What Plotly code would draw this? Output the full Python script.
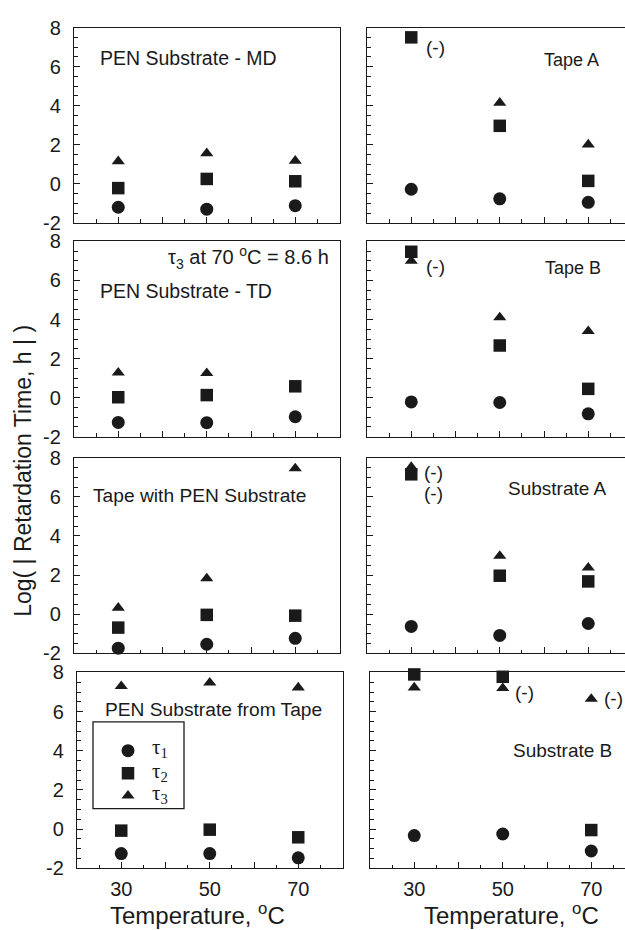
import plotly.graph_objects as go

W, H = 625, 930
FONT = "Liberation Sans, Arial, Helvetica, sans-serif"
SERIF = "Liberation Serif, Times New Roman, serif"
INK = "#1a1a1a"

# ---------------- data (log retardation time, h) ----------------
temps = [30, 50, 70]

md_t1 = [-1.20, -1.30, -1.12]
md_t2 = [-0.22, 0.25, 0.13]
md_t3 = [1.15, 1.56, 1.18]

tapeA_t1 = [-0.28, -0.77, -0.95]
tapeA_t2 = [7.50, 2.97, 0.15]
tapeA_t3 = [None, 4.15, 2.01]

td_t1 = [-1.27, -1.28, -0.98]
td_t2 = [0.02, 0.13, 0.58]
td_t3 = [1.28, 1.25, 8.25]

tapeB_t1 = [-0.22, -0.25, -0.83]
tapeB_t2 = [7.47, 2.67, 0.45]
tapeB_t3 = [7.00, 4.11, 3.40]

tpen_t1 = [-1.73, -1.53, -1.23]
tpen_t2 = [-0.68, -0.03, -0.07]
tpen_t3 = [0.33, 1.83, 7.45]

subA_t1 = [-0.62, -1.08, -0.47]
subA_t2 = [7.15, 1.97, 1.68]
subA_t3 = [7.52, 2.98, 2.38]

pft_t1 = [-1.25, -1.25, -1.47]
pft_t2 = [-0.08, -0.03, -0.42]
pft_t3 = [7.30, 7.48, 7.23]

subB_t1 = [-0.33, -0.25, -1.12]
subB_t2 = [7.90, 7.78, -0.05]
subB_t3 = [7.23, 7.20, 6.65]

panel_titles = ["PEN Substrate - MD", "Tape A", "PEN Substrate - TD", "Tape B",
                "Tape with PEN Substrate", "Substrate A", "PEN Substrate from Tape", "Substrate B"]
panel_data = [(md_t1, md_t2, md_t3), (tapeA_t1, tapeA_t2, tapeA_t3),
              (td_t1, td_t2, td_t3), (tapeB_t1, tapeB_t2, tapeB_t3),
              (tpen_t1, tpen_t2, tpen_t3), (subA_t1, subA_t2, subA_t3),
              (pft_t1, pft_t2, pft_t3), (subB_t1, subB_t2, subB_t3)]
series_names = ["\u03c4<sub>1</sub>", "\u03c4<sub>2</sub>", "\u03c4<sub>3</sub>"]

y_ticks = [-2, 0, 2, 4, 6, 8]
y_ticktext = ["-2", "0", "2", "4", "6", "8"]
x_ticks = [30, 40, 50, 60, 70]
x_ticktext = ["30", " ", "50", " ", "70"]

# ---------------- layout geometry (pixels) ----------------
rows_px = [(17, 217), (236, 436), (457.5, 658), (677.5, 878)]
left_px = [(74, 339.5)] * 3 + [(77, 343)]
right_px = [(367, 625)] * 3 + [(370, 625)]
px_per_unit = (339.5 - 74) / 60.0


def fx(p):
    return p / W


def fy(p):
    return 1 - p / H


symbols = ["circle", "square", "triangle-up"]
sizes = [13, 12.5, 11.5]

fig = go.Figure()
layout = {}
for i, (title, data) in enumerate(zip(panel_titles, panel_data)):
    row, col = divmod(i, 2)
    n = i + 1
    sx = "" if n == 1 else str(n)
    x0, x1 = (left_px if col == 0 else right_px)[row]
    t, b = rows_px[row]
    xmax = 20 + (x1 - x0) / px_per_unit
    for k in range(3):
        fig.add_trace(go.Scatter(
            x=temps, y=data[k], mode="markers", name=series_names[k],
            marker=dict(symbol=symbols[k], size=sizes[k], color=INK, line=dict(width=0)),
            xaxis="x" + sx, yaxis="y" + sx, cliponaxis=False, showlegend=False))
    layout["xaxis" + sx] = dict(
        domain=[fx(x0), fx(x1)], range=[20, xmax], anchor="y" + sx,
        tickmode="array", tickvals=x_ticks, ticktext=x_ticktext,
        showticklabels=(row == 3), ticks="inside", ticklen=6, tickwidth=1.2, tickcolor=INK,
        minor=dict(tickmode="linear", tick0=0, dtick=5, ticks="inside", ticklen=3.5,
                   tickwidth=1, tickcolor=INK),
        showline=True, linecolor=INK, linewidth=1.3, mirror=True,
        showgrid=False, zeroline=False, ticklabelstandoff=3,
        tickfont=dict(family=FONT, size=20, color=INK))
    layout["yaxis" + sx] = dict(
        domain=[fy(b), fy(t)], range=[-2, 8], anchor="x" + sx,
        tickmode="array", tickvals=y_ticks, ticktext=y_ticktext,
        showticklabels=(col == 0), ticks="inside", ticklen=6, tickwidth=1.2, tickcolor=INK,
        minor=dict(tickmode="linear", tick0=0, dtick=0.5, ticks="inside", ticklen=3.5,
                   tickwidth=1, tickcolor=INK),
        showline=True, linecolor=INK, linewidth=1.3, mirror=(col == 0),
        showgrid=False, zeroline=False, ticklabelstandoff=8,
        tickfont=dict(family=FONT, size=20, color=INK))

# legend keys (symbols only; the tau labels are drawn as annotations beside them)
for k in range(3):
    fig.add_trace(go.Scatter(
        x=[None], y=[None], mode="markers", name="\u00a0",
        marker=dict(symbol=symbols[k], size=sizes[k], color=INK, line=dict(width=0)),
        showlegend=True, legendrank=k + 1, hoverinfo="skip"))

annotations = []


def ann(text, xp, yp, size=19, **kw):
    d = dict(text=text, x=fx(xp), y=fy(yp), xref="paper", yref="paper",
             xanchor="center", yanchor="middle", showarrow=False,
             font=dict(family=FONT, size=size, color=INK))
    d.update(kw)
    annotations.append(d)


title_pos = [(188, 48), (571, 50), (186, 287), (573, 263),
             (199, 496), (557, 489), (213, 715), (562, 757)]
title_sizes = [19.5, 18, 19.5, 18, 19.2, 19, 19.2, 19]
for title, (xp, yp), fs in zip(panel_titles, title_pos, title_sizes):
    ann(title, xp, yp, size=fs)

ann("\u03c4<sub>3</sub> at 70 <sup>o</sup>C = 8.6 h", 249, 252, size=20)


# "(-)" markers next to points (negative retardation times)
def neg(axis_n, xv, yv, dx, dy):
    sx = "" if axis_n == 1 else str(axis_n)
    annotations.append(dict(text="(-)", x=xv, y=yv, xref="x" + sx, yref="y" + sx,
                            xshift=dx, yshift=dy, showarrow=False,
                            xanchor="center", yanchor="middle",
                            font=dict(family=FONT, size=19, color=INK)))


neg(2, temps[0], tapeA_t2[0], 24, -10)
neg(4, temps[0], tapeB_t3[0], 24, -6)
neg(6, temps[0], subA_t3[0], 22, -5)
neg(6, temps[0], subA_t3[0], 22, -26)
neg(8, temps[1], subB_t3[1], 22, -4)
neg(8, temps[2], subB_t3[2], 22, 0)

# legend labels
for k, yp in enumerate([755, 779, 802]):
    ann(series_names[k], 150, yp, xanchor="left",
        font=dict(family=SERIF, size=21, color=INK))

# axis titles
ann("Temperature, <sup>o</sup>C", 197, 925, size=24)
ann("Temperature, <sup>o</sup>C", 511, 925, size=24)
ann("Log( | Retardation Time, h | )", 23, 471, size=23, textangle=-90)

# legend frame
shapes = [dict(type="rect", xref="paper", yref="paper",
               x0=fx(93), x1=fx(184), y0=fy(817), y1=fy(728),
               line=dict(color=INK, width=1.3), fillcolor="rgba(0,0,0,0)")]

fig.update_layout(
    width=W, height=H, margin=dict(l=0, r=0, t=0, b=0),
    paper_bgcolor="white", plot_bgcolor="white",
    font=dict(family=FONT, size=18, color=INK),
    annotations=annotations, shapes=shapes,
    legend=dict(x=fx(108), y=fy(741), xanchor="left", yanchor="top",
                borderwidth=0, bgcolor="rgba(0,0,0,0)",
                font=dict(family=SERIF, size=15, color=INK),
                tracegroupgap=0, itemwidth=30),
    **layout)

fig.write_html("out.html")
